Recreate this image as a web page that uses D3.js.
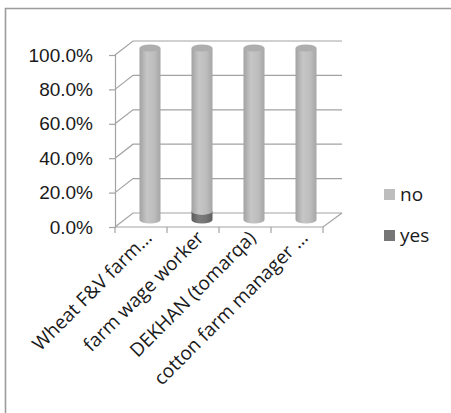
<!DOCTYPE html>
<html lang="en">
<head>
  <meta charset="UTF-8">
  <title>Stacked cylinders</title>
  <script src="https://d3js.org/d3.v7.min.js"></script>
  <style>
    html, body { margin: 0; padding: 0; background: #fff; }
    svg { display: block; font-family: "Open Sans", sans-serif; }
    .grid { stroke: #a3a3a3; stroke-width: 1.2; fill: none; }
    .lbl { font-size: 19px; fill: #1a1a1a; }
  </style>
</head>
<body>
  <svg width="451" height="413"></svg>
  <script>
    const categories = ["Wheat F&V farm...", "farm wage worker", "DEKHAN (tomarqa)", "cotton farm manager ..."];
    const yesValues  = [0, 0.05, 0, 0];
    const noValues   = [1, 0.95, 1, 1];
    const yTicks     = [0, 0.2, 0.4, 0.6, 0.8, 1];
    const seriesNames = ["no", "yes"];

    const svg = d3.select("svg");
    const depthX = 18, depthY = -14;   // 3d offset from front to back wall

    // chart frame (right and bottom sides are cropped)
    svg.append("path").attr("d", "M5.5,413 V8.5 H451")
      .attr("stroke", "#9c9c9c").attr("stroke-width", 1.6).attr("fill", "none");

    const x = d3.scaleBand().domain(categories).range([115, 323]);
    const y = d3.scaleLinear().domain([0, 1]).range([227, 55]);

    // back wall gridlines + left wall diagonals
    const g = svg.append("g");
    yTicks.forEach(t => {
      g.append("path").attr("class", "grid")
        .attr("d", `M115,${y(t)} l${depthX},${depthY} H342`);
    });
    // floor
    g.append("path").attr("class", "grid")
      .attr("d", `M115,${y(0)} H323 l${depthX + 1},${depthY}`);
    // front vertical axis
    const yAxis = d3.axisLeft(y).tickValues(yTicks).tickSize(6).tickFormat(d3.format(".1%"));
    const ya = svg.append("g").attr("transform", "translate(115,0)").call(yAxis);
    ya.select(".domain").attr("stroke", "#a3a3a3").attr("stroke-width", 1.2);
    ya.selectAll(".tick line").attr("stroke", "#a3a3a3").attr("stroke-width", 1.2);
    ya.selectAll(".tick text").attr("class", "lbl").attr("x", -22).attr("font-family", null).attr("font-size", null);

    // category tick marks on floor front edge
    const xa = svg.append("g");
    const bounds = categories.map(c => x(c)).concat([x.range()[1]]);
    xa.selectAll("line").data(bounds).join("line")
      .attr("x1", d => d).attr("x2", d => d)
      .attr("y1", y(0)).attr("y2", y(0) + 6)
      .attr("stroke", "#a3a3a3").attr("stroke-width", 1.2);

    // rotated category labels
    xa.selectAll("text").data(categories).join("text")
      .attr("class", "lbl")
      .attr("text-anchor", "end")
      .attr("transform", d => `translate(${x(d) + x.bandwidth() / 2 + 12},${y(0) + 12}) rotate(-45)`)
      .text(d => d);

    // gradients
    const defs = svg.append("defs");
    function grad(id, stops) {
      const lg = defs.append("linearGradient").attr("id", id);
      stops.forEach(([o, c]) => lg.append("stop").attr("offset", o).attr("stop-color", c));
    }
    grad("gNo", [["0%", "#a2a2a2"], ["35%", "#c6c6c6"], ["70%", "#bdbdbd"], ["100%", "#a6a6a6"]]);
    grad("gYes", [["0%", "#5c5c5c"], ["35%", "#7d7d7d"], ["70%", "#747474"], ["100%", "#5e5e5e"]]);

    const colors = { no: "url(#gNo)", yes: "url(#gYes)" };
    const topColors = { no: "#aeaeae", yes: "#6a6a6a" };
    const rx = 10.5, ry = 3.5;
    const ym = v => y(v) + depthY / 2;

    const stackData = categories.map((c, i) => ({ cat: c, yes: yesValues[i], no: noValues[i] }));
    const stack = d3.stack().keys(["yes", "no"])(stackData);

    const bars = svg.append("g");
    stack.forEach(layer => {
      const key = layer.key;
      layer.forEach(seg => {
        if (seg[1] - seg[0] <= 0) return;
        const cx = x(seg.data.cat) + x.bandwidth() / 2 + depthX / 2;
        const yb = ym(seg[0]), yt = ym(seg[1]);
        bars.append("path")
          .attr("d", `M${cx - rx},${yt} V${yb} A${rx},${ry} 0 0 0 ${cx + rx},${yb} V${yt} Z`)
          .attr("fill", colors[key]);
        bars.append("ellipse")
          .attr("cx", cx).attr("cy", yt).attr("rx", rx).attr("ry", ry)
          .attr("fill", topColors[key]);
      });
    });

    // legend
    const legendColors = { no: "#bdbdbd", yes: "#767676" };
    const lg = svg.append("g").attr("transform", "translate(384,189)");
    lg.selectAll("g").data(seriesNames).join("g")
      .attr("transform", (d, i) => `translate(0,${i * 41})`)
      .each(function (d) {
        const s = d3.select(this);
        s.append("rect").attr("width", 11).attr("height", 11).attr("fill", legendColors[d]);
        s.append("text").attr("class", "lbl").attr("x", 16).attr("y", 12).text(d);
      });
  </script>
</body>
</html>
